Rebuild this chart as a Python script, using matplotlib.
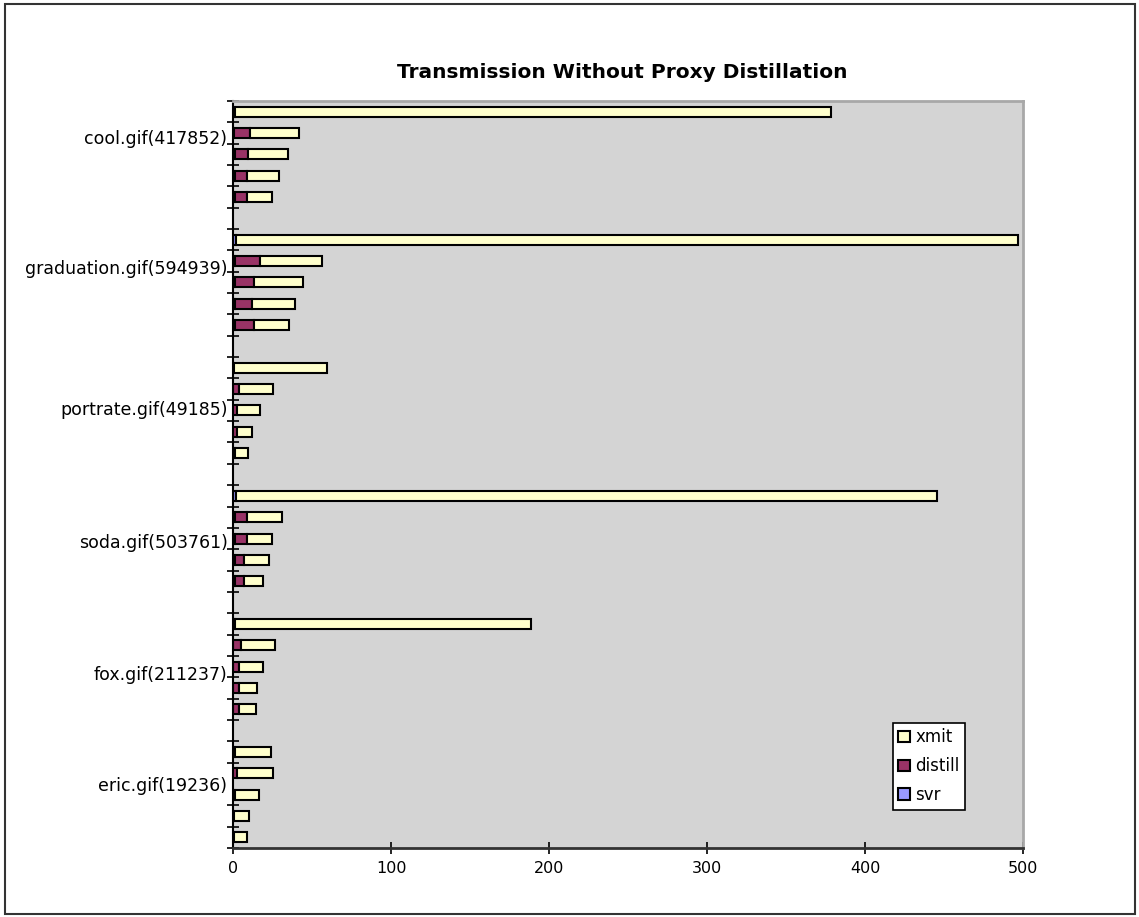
import numpy as np
import matplotlib.pyplot as plt
from matplotlib.patches import Rectangle

plt.switch_backend('agg')

groups = ["cool.gif(417852)", "graduation.gif(594939)", "portrate.gif(49185)",
          "soda.gif(503761)", "fox.gif(211237)", "eric.gif(19236)"]

# five runs per image, top to bottom
svr = [[1.0, 0.5, 1.3, 1.3, 1.3],
       [1.7, 1.3, 1.3, 1.3, 1.3],
       [0.5, 0.3, 0.3, 0.3, 0.3],
       [1.7, 1.3, 1.3, 1.3, 1.3],
       [1.0, 0.3, 0.3, 0.3, 0.3],
       [1.0, 0.3, 0.3, 0.3, 0.3]]
distill = [[0, 10.3, 8.4, 7.4, 7.4],
           [0, 15.8, 12.0, 10.9, 12.0],
           [0, 3.7, 2.4, 2.4, 1.2],
           [0, 7.4, 7.4, 5.9, 5.9],
           [0, 4.8, 3.7, 3.7, 3.5],
           [0, 2.4, 1.2, 0.3, 0.3]]
xmit = [[377.5, 31.0, 24.9, 20.2, 16.2],
        [494.9, 39.0, 30.8, 27.3, 22.4],
        [58.8, 21.1, 14.4, 9.5, 8.2],
        [443.9, 22.5, 16.2, 15.6, 12.0],
        [187.4, 21.5, 15.2, 11.4, 10.8],
        [22.8, 22.4, 15.2, 9.3, 8.1]]
label_pos = [1.7, 7.8, 14.4, 20.6, 26.8, 32.0]

svr = np.array(svr)
distill = np.array(distill)
xmit = np.array(xmit)

# slot positions: 5 bars per group, one blank slot between groups
pos = np.array([6 * g + j + 0.5 for g in range(6) for j in range(5)])
s = svr.ravel()
d = distill.ravel()
x = xmit.ravel()

fig = plt.figure(figsize=(11.39, 9.17), dpi=100)
fig.patches.append(Rectangle((5 / 1139, 3 / 917), 1130 / 1139, 910 / 917,
                             transform=fig.transFigure, fill=False,
                             edgecolor='#333333', linewidth=1.5))
ax = fig.add_axes([233 / 1139, 1 - 848 / 917, 790 / 1139, 747 / 917])
ax.set_facecolor('#d4d4d4')

h = 0.47
kw = dict(height=h, edgecolor='black', linewidth=1.5)
ax.barh(pos, s, color='#9999ff', label='svr', **kw)
ax.barh(pos, d, left=s, color='#993366', label='distill', **kw)
ax.barh(pos, x, left=s + d, color='#ffffcc', label='xmit', **kw)

ax.set_xlim(0, 500)
ax.set_ylim(35, 0)
ax.set_xticks(np.arange(0, 501, 100))
ax.set_yticks(label_pos)
ax.set_yticklabels(groups)
ax.set_yticks(np.arange(0, 36), minor=True)
ax.tick_params(axis='y', which='major', length=0, pad=4, labelsize=12.5)
ax.tick_params(axis='y', which='minor', direction='inout', length=9,
               width=1.2)
ax.tick_params(axis='x', direction='inout', length=9, width=1.2,
               labelsize=11.5, pad=5)

for side in ['top', 'right']:
    ax.spines[side].set_color('#a8a8a8')
    ax.spines[side].set_linewidth(2)
ax.spines['left'].set_linewidth(1.5)
ax.spines['bottom'].set_linewidth(2)
ax.spines['bottom'].set_color('#333333')

handles, labels = ax.get_legend_handles_labels()
leg = ax.legend(handles[::-1], labels[::-1], loc='lower left',
                bbox_to_anchor=(0.835, 0.051), borderaxespad=0,
                fontsize=12, frameon=True,
                fancybox=False, edgecolor='black', framealpha=1,
                handlelength=0.7, handleheight=0.7, handletextpad=0.3,
                labelspacing=0.65, borderpad=0.35)
leg.get_frame().set_linewidth(1.2)

fig.text(622 / 1139, 1 - 73 / 917, "Transmission Without Proxy Distillation",
         ha='center', va='center', fontsize=14.5, fontweight='bold')

fig.savefig("out.png", dpi=100)
